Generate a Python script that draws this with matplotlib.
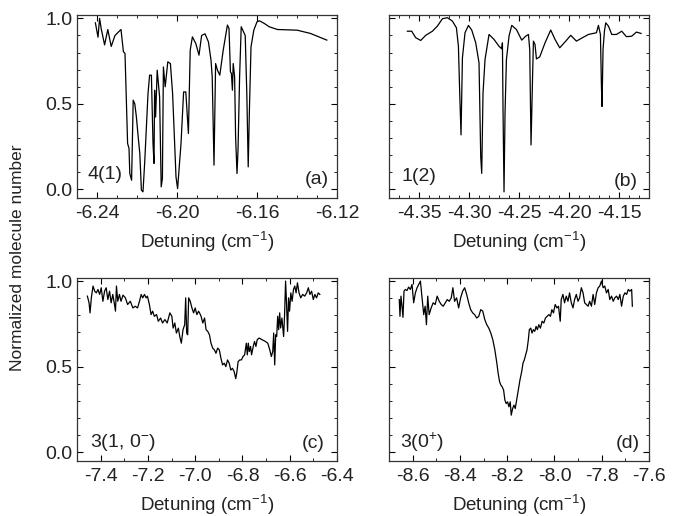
import matplotlib
matplotlib.use("Agg")
import matplotlib.pyplot as plt
from matplotlib.ticker import MultipleLocator, FormatStrFormatter

plt.rcParams['font.family'] = ['Liberation Sans', 'DejaVu Sans']
plt.rcParams['mathtext.fontset'] = 'custom'
plt.rcParams['mathtext.rm'] = 'Liberation Sans'
plt.rcParams['mathtext.it'] = 'Liberation Sans:italic'
plt.rcParams['axes.unicode_minus'] = False

# ---------------- data ----------------
# panel (a) 4(1)
a_x = [-6.2408, -6.2395, -6.2387, -6.2379, -6.2362, -6.2346, -6.2329, -6.2310, -6.2293, -6.2280,
       -6.2268, -6.2260, -6.2247, -6.2240, -6.2236, -6.2227, -6.2219, -6.2211, -6.2203, -6.2194,
       -6.2186, -6.2178, -6.2170, -6.2161, -6.2153, -6.2145, -6.2137, -6.2128, -6.2120, -6.2115,
       -6.2112, -6.2107, -6.2099, -6.2087, -6.2079, -6.2073, -6.2068, -6.2059, -6.2046, -6.2033,
       -6.2022, -6.2005, -6.1997, -6.1980, -6.1967, -6.1956, -6.1943, -6.1934, -6.1923, -6.1906,
       -6.1890, -6.1877, -6.1860, -6.1843, -6.1830, -6.1824, -6.1815, -6.1807, -6.1798, -6.1786,
       -6.1769, -6.1748, -6.1740, -6.1733, -6.1728, -6.1723, -6.1719, -6.1712, -6.1707, -6.1700,
       -6.1695, -6.1687, -6.1679, -6.1671, -6.1659, -6.1651, -6.1644, -6.1638, -6.1630, -6.1616,
       -6.1600, -6.1588, -6.1563, -6.1539, -6.1498, -6.1399, -6.1333, -6.1251]
a_y = [0.974, 0.89, 1.0, 0.94, 0.845, 0.935, 0.836, 0.90, 0.92, 0.935,
       0.805, 0.795, 0.269, 0.24, 0.093, 0.054, 0.522, 0.50, 0.423, 0.306,
       0.21, -0.004, -0.014, 0.17, 0.365, 0.56, 0.668, 0.668, 0.269, 0.152,
       0.58, 0.423, 0.697, 0.541, 0.015, 0.064, 0.716, 0.60, 0.746, 0.736,
       0.56, 0.073, 0.005, 0.268, 0.57, 0.57, 0.327, 0.814, 0.892, 0.853,
       0.785, 0.90, 0.91, 0.863, 0.756, 0.659, 0.142, 0.736, 0.698, 0.668,
       0.814, 0.961, 0.941, 0.688, 0.678, 0.58, 0.736, 0.659, 0.307, 0.093,
       0.23, 0.659, 0.951, 0.931, 0.90, 0.561, 0.132, 0.463, 0.834, 0.931,
       0.98, 0.986, 0.97, 0.951, 0.935, 0.931, 0.912, 0.873]

# panel (b) 1(2)
b_x = [-4.3616, -4.3573, -4.3533, -4.3483, -4.3433, -4.3366, -4.3316, -4.3266, -4.3216, -4.3166,
       -4.3126, -4.3106, -4.3093, -4.3080, -4.3066, -4.3040, -4.3006, -4.2973, -4.2933, -4.2900,
       -4.2883, -4.2873, -4.2860, -4.2840, -4.2800, -4.2750, -4.2700, -4.2673, -4.2666, -4.2660,
       -4.2650, -4.2640, -4.2626, -4.2600, -4.2573, -4.2526, -4.2473, -4.2433, -4.2406, -4.2393,
       -4.2380, -4.2366, -4.2356, -4.2340, -4.2326, -4.2293, -4.2240, -4.2183, -4.2140, -4.2093,
       -4.2033, -4.1983, -4.1926, -4.1866, -4.1806, -4.1726, -4.1706, -4.1686, -4.1676, -4.1670,
       -4.1660, -4.1646, -4.1633, -4.1606, -4.1573, -4.1526, -4.1473, -4.1426, -4.1373, -4.1326,
       -4.1280]
b_y = [0.925, 0.925, 0.887, 0.871, 0.901, 0.925, 0.955, 0.998, 1.004, 0.984,
       0.945, 0.837, 0.563, 0.319, 0.769, 0.916, 0.959, 0.932, 0.857, 0.74,
       0.192, 0.094, 0.563, 0.759, 0.906, 0.877, 0.837, 0.822, 0.857, 0.466,
       -0.014, 0.446, 0.759, 0.896, 0.959, 0.935, 0.873, 0.896, 0.906, 0.818,
       0.26, 0.622, 0.867, 0.847, 0.763, 0.775, 0.857, 0.932, 0.877, 0.828,
       0.867, 0.901, 0.867, 0.887, 0.906, 0.916, 0.959, 0.906, 0.602, 0.485,
       0.818, 0.925, 0.974, 0.955, 0.906, 0.906, 0.925, 0.893, 0.896, 0.920,
       0.912]

# panel (c) 3(1, 0-)
c_x = [-7.4561, -7.4490, -7.4448, -7.4393, -7.4322, -7.4251, -7.4184, -7.4113, -7.4042, -7.3975,
       -7.3904, -7.3833, -7.3766, -7.3695, -7.3623, -7.3556, -7.3485, -7.3414, -7.3372, -7.3331,
       -7.3276, -7.3205, -7.3138, -7.3054, -7.2954, -7.2858, -7.2745, -7.2636, -7.2536, -7.2439,
       -7.2356, -7.2285, -7.2218, -7.2146, -7.2075, -7.2021, -7.1937, -7.1866, -7.1799, -7.1728,
       -7.1632, -7.1561, -7.1464, -7.1381, -7.1280, -7.1184, -7.1071, -7.0987, -7.0933, -7.0862,
       -7.0795, -7.0711, -7.0653, -7.0586, -7.0515, -7.0444, -7.0402, -7.0360, -7.0318, -7.0276,
       -7.0209, -7.0138, -7.0067, -7.0000, -6.9929, -6.9858,
       -6.9816, -6.9749, -6.9678, -6.9603, -6.9540, -6.9469, -6.9397, -6.9331, -6.9259, -6.9188,
       -6.9121, -6.9050, -6.8979, -6.8912, -6.8841, -6.8770, -6.8703, -6.8632, -6.8561, -6.8494,
       -6.8423, -6.8351, -6.8285, -6.8243, -6.8184, -6.8117, -6.8046, -6.7975, -6.7908, -6.7837,
       -6.7795, -6.7753, -6.7711, -6.7657, -6.7615, -6.7544, -6.7490, -6.7431, -6.7377, -6.7293,
       -6.7167, -6.7029, -6.6929, -6.6845, -6.6778, -6.6720, -6.6678, -6.6636, -6.6594, -6.6552,
       -6.6510, -6.6469, -6.6427, -6.6385, -6.6331, -6.6259, -6.6218, -6.6176, -6.6134, -6.6092,
       -6.6050, -6.6008, -6.5954, -6.5900, -6.5841, -6.5787, -6.5732, -6.5674, -6.5607, -6.5536,
       -6.5452, -6.5368, -6.5285, -6.5213, -6.5146, -6.5075, -6.5004, -6.4937, -6.4866, -6.4795,
       -6.4728]
c_y = [0.912, 0.873, 0.814, 0.902, 0.971, 0.941, 0.931, 0.951, 0.922, 0.961,
       0.882, 0.941, 0.961, 0.892, 0.941, 0.873, 0.922, 0.863, 0.824, 0.971,
       0.882, 0.922, 0.882, 0.918, 0.902, 0.863, 0.882, 0.843, 0.853, 0.843,
       0.882, 0.922, 0.902, 0.922, 0.902, 0.912, 0.863, 0.804, 0.824, 0.794,
       0.804, 0.765, 0.784, 0.755, 0.775, 0.755, 0.814, 0.794, 0.725, 0.755,
       0.696, 0.725, 0.676, 0.637, 0.716, 0.745, 0.902, 0.696, 0.686, 0.902,
       0.882, 0.843, 0.814, 0.843, 0.804, 0.824,
       0.814, 0.794, 0.755, 0.784, 0.716, 0.706, 0.686, 0.637, 0.608, 0.598,
       0.578, 0.608, 0.598, 0.549, 0.510, 0.520, 0.500, 0.539, 0.520, 0.480,
       0.490, 0.471, 0.430, 0.461, 0.529, 0.539, 0.539, 0.559, 0.569, 0.637,
       0.569, 0.637, 0.588, 0.618, 0.569, 0.618, 0.647, 0.618, 0.657, 0.667,
       0.657, 0.647, 0.637, 0.598, 0.559, 0.588, 0.696, 0.510, 0.686, 0.676,
       0.794, 0.716, 0.814, 0.726, 0.784, 0.676, 0.804, 1.0, 0.863, 0.706,
       0.902, 0.824, 0.931, 0.882, 0.951, 0.971, 0.931, 0.990, 0.931, 0.902,
       0.922, 0.912, 0.931, 0.961, 0.922, 0.941, 0.892, 0.922, 0.902, 0.931,
       0.922]

# panel (d) 3(0+)
d_x = [-8.6566, -8.6536, -8.6494, -8.6451, -8.6409, -8.6366, -8.6311, -8.6238, -8.6170, -8.6098,
       -8.6026, -8.5957, -8.5885, -8.5813, -8.5745, -8.5672, -8.5600, -8.5532, -8.5472, -8.5417,
       -8.5362, -8.5302, -8.5217, -8.5132, -8.5047, -8.4962, -8.4877, -8.4791, -8.4706, -8.4621,
       -8.4536, -8.4451, -8.4366, -8.4298, -8.4226, -8.4140, -8.4055, -8.3970, -8.3885, -8.3800,
       -8.3715, -8.3630, -8.3545, -8.3460, -8.3379, -8.3289, -8.3204, -8.3119, -8.3034, -8.2949,
       -8.2864, -8.2779, -8.2694, -8.2609, -8.2523, -8.2438, -8.2383, -8.2323, -8.2268, -8.2213,
       -8.2153, -8.2098, -8.2043, -8.1983, -8.1928, -8.1872, -8.1830, -8.1770, -8.1715, -8.1660,
       -8.1600, -8.1532, -8.1460, -8.1387, -8.1332, -8.1277, -8.1217, -8.1162, -8.1106, -8.1064,
       -8.1004, -8.0949, -8.0894, -8.0834, -8.0779, -8.0723, -8.0664, -8.0596, -8.0523, -8.0451,
       -8.0383, -8.0311, -8.0238, -8.0170, -8.0111, -8.0043, -7.9970, -7.9898, -7.9830, -7.9757,
       -7.9715, -7.9643, -7.9574, -7.9502, -7.9430, -7.9362, -7.9289, -7.9217, -7.9149, -7.9077,
       -7.9004, -7.8936, -7.8864, -7.8791, -7.8723, -7.8651, -7.8579, -7.8511, -7.8438, -7.8366,
       -7.8298, -7.8226, -7.8153, -7.8085, -7.8013, -7.7940, -7.7872, -7.7800, -7.7728, -7.7660,
       -7.7587, -7.7515, -7.7447, -7.7374, -7.7302, -7.7234, -7.7162, -7.7089, -7.7021, -7.6949,
       -7.6877, -7.6809, -7.6736, -7.6706]
d_y = [0.892, 0.794, 0.912, 0.853, 0.788, 0.941, 0.951, 0.945, 0.965, 0.951,
       0.980, 0.873, 0.931, 0.961, 0.980, 1.0, 0.902, 0.804, 0.853, 0.745,
       0.912, 0.804, 0.843, 0.873, 0.863, 0.912, 0.882, 0.863, 0.853, 0.873,
       0.892, 0.882, 0.902, 0.961, 0.882, 0.902, 0.843, 0.902, 0.941, 0.961,
       0.922, 0.873, 0.833, 0.814, 0.804, 0.784, 0.794, 0.833, 0.824, 0.775,
       0.745, 0.725, 0.696, 0.657, 0.598, 0.520, 0.461, 0.412, 0.392, 0.382,
       0.363, 0.304, 0.284, 0.294, 0.265, 0.294, 0.216, 0.255, 0.275, 0.255,
       0.304, 0.363, 0.422, 0.471, 0.520, 0.539, 0.569, 0.598, 0.657, 0.716,
       0.725, 0.696, 0.716, 0.706, 0.735, 0.716, 0.745, 0.725, 0.765, 0.755,
       0.784, 0.794, 0.804, 0.794, 0.833, 0.814, 0.863, 0.843, 0.853, 0.765,
       0.892, 0.922, 0.873, 0.912, 0.882, 0.931, 0.873, 0.843, 0.892, 0.922,
       0.882, 0.902, 0.961, 0.931, 0.873, 0.863, 0.853, 0.882, 0.853, 0.922,
       0.863, 0.931, 0.961, 0.971, 1.0, 0.961, 0.971, 0.931, 0.951, 0.892,
       0.912, 0.882, 0.902, 0.912, 0.892, 0.922, 0.853, 0.912, 0.931, 0.922,
       0.951, 0.941, 0.951, 0.853]

panels = [
    dict(x=a_x, y=a_y, xlim=(-6.25, -6.12), major=0.04, minor=0.01, fmt='%.2f',
         left=0.1124, bottom=0.6163, label='4(1)', tag='(a)',
         lpos=(0.042, 0.13), tpos=(0.97, 0.10), ylab=True),
    dict(x=b_x, y=b_y, xlim=(-4.38, -4.12), major=0.05, minor=0.01, fmt='%.2f',
         left=0.5679, bottom=0.6163, label='1(2)', tag='(b)',
         lpos=(0.049, 0.12), tpos=(0.958, 0.09), ylab=False),
    dict(x=c_x, y=c_y, xlim=(-7.5, -6.4), major=0.2, minor=0.1, fmt='%.1f',
         left=0.1124, bottom=0.1072, label='3(1, 0$^{-}$)', tag='(c)',
         lpos=(0.05, 0.10), tpos=(0.953, 0.095), ylab=True),
    dict(x=d_x, y=d_y, xlim=(-8.7, -7.6), major=0.2, minor=0.1, fmt='%.1f',
         left=0.5679, bottom=0.1072, label='3(0$^{+}$)', tag='(d)',
         lpos=(0.042, 0.10), tpos=(0.965, 0.095), ylab=False),
]

fig = plt.figure(figsize=(6.85, 5.16), dpi=100)
FS_TICK = 14
FS_TXT = 14
FS_XLAB = 13.5
FS_YLAB = 12.5
for p in panels:
    ax = fig.add_axes([p['left'], p['bottom'], 0.3796, 0.3547])
    ax.plot(p['x'], p['y'], color='black', lw=0.9)
    ax.set_xlim(*p['xlim'])
    ax.set_ylim(-0.05, 1.02)
    ax.xaxis.set_major_locator(MultipleLocator(p['major']))
    ax.xaxis.set_minor_locator(MultipleLocator(p['minor']))
    ax.xaxis.set_major_formatter(FormatStrFormatter(p['fmt']))
    ax.yaxis.set_major_locator(MultipleLocator(0.5))
    ax.yaxis.set_minor_locator(MultipleLocator(0.1))
    ax.yaxis.set_major_formatter(FormatStrFormatter('%.1f'))
    ax.tick_params(which='both', direction='in', top=True, right=True,
                   labelsize=FS_TICK, labelcolor='#222222')
    ax.tick_params(axis='x', which='both', pad=5)
    ax.tick_params(axis='y', which='both', pad=3.5)
    ax.tick_params(which='major', length=4, width=0.8)
    ax.tick_params(which='minor', length=2.5, width=0.6)
    if not p['ylab']:
        ax.tick_params(labelleft=False)
    for s in ax.spines.values():
        s.set_linewidth(0.9)
        s.set_color('#333333')
    ax.set_xlabel('Detuning (cm$^{-1}$)', fontsize=FS_XLAB, labelpad=6, color='#222222')
    ax.text(p['lpos'][0], p['lpos'][1], p['label'], transform=ax.transAxes,
            fontsize=FS_TXT, ha='left', va='center', color='#222222')
    ax.text(p['tpos'][0], p['tpos'][1], p['tag'], transform=ax.transAxes,
            fontsize=FS_TXT, ha='right', va='center', color='#222222')

fig.text(0.026, 0.5, 'Normalized molecule number', rotation=90,
         ha='center', va='center', fontsize=FS_YLAB, color='#222222')

fig.savefig('out.png', dpi=100)
